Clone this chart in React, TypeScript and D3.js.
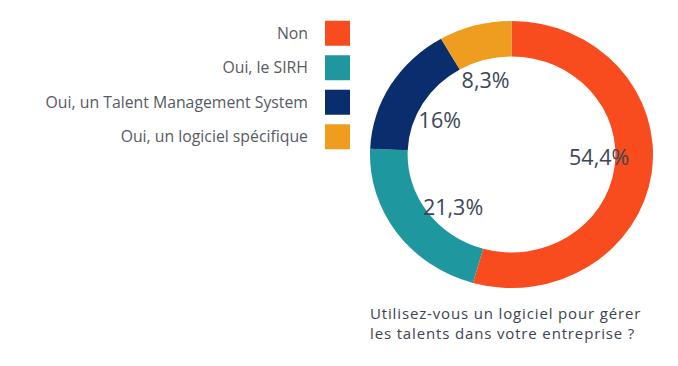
import React from 'react';
import * as d3 from 'd3';

const categories = ["Non", "Oui, le SIRH", "Oui, un Talent Management System", "Oui, un logiciel spécifique"];
const values = [54.4, 21.3, 16, 8.3];
const valueLabels = ["54,4%", "21,3%", "16%", "8,3%"];
const colors = ["#f84c1e", "#1f979e", "#0a2d6e", "#ee9d1e"];
const question = ["Utilisez-vous un logiciel pour gérer", "les talents dans votre entreprise ?"];

const width = 678;
const height = 366;
const font = "'Open Sans', sans-serif";

export default function App() {
  const cx = 511.5;
  const cy = 154.5;
  const outer = 133.5;
  const inner = 98;
  const stretch = 1.06; // the source image is slightly wider than tall

  const pie = d3.pie<number>().sort(null).value(d => d);
  const arcs = pie(values);
  const arc = d3.arc<d3.PieArcDatum<number>>().innerRadius(inner).outerRadius(outer);

  // labels sit inside the hole, a bit before the middle of each slice
  const labelR = 79;
  const labelPos = (a: d3.PieArcDatum<number>) => {
    const ang = (a.startAngle + a.endAngle) / 2 - (6 * Math.PI) / 180;
    return [cx + Math.sin(ang) * labelR * stretch + 4, cy - Math.cos(ang) * labelR];
  };

  const legend = d3.scaleBand().domain(categories).range([16, 154]);

  return (
    <div style={{ position: 'absolute', left: 0, top: 0 }}>
      <svg width={width} height={height} style={{ display: 'block', background: '#fff' }}>
        <g transform={`translate(${cx},${cy}) scale(${stretch},1)`}>
          {arcs.map((a, i) => (
            <path key={i} d={arc(a) || ''} fill={colors[i]} />
          ))}
        </g>
        {arcs.map((a, i) => {
          const [x, y] = labelPos(a);
          return (
            <text key={i} x={x} y={y} dy="0.35em" textAnchor="middle"
              fontFamily={font} fontSize={21.5} fill="#3b4656">
              {valueLabels[i]}
            </text>
          );
        })}
        {categories.map((c, i) => {
          const y = (legend(c) || 0) + legend.bandwidth() / 2;
          return (
            <g key={c}>
              <rect x={325} y={y - 12.5} width={25} height={25} fill={colors[i]} />
              <text x={308} y={y} dy="0.35em" textAnchor="end"
                fontFamily={font} fontSize={15.8} fill="#565a64">
                {c}
              </text>
            </g>
          );
        })}
        {question.map((q, i) => (
          <text key={i} x={370} y={318.5 + i * 20.6} fontFamily={font} fontSize={15}
            letterSpacing={0.85} fill="#3b4350">
            {q}
          </text>
        ))}
      </svg>
    </div>
  );
}
